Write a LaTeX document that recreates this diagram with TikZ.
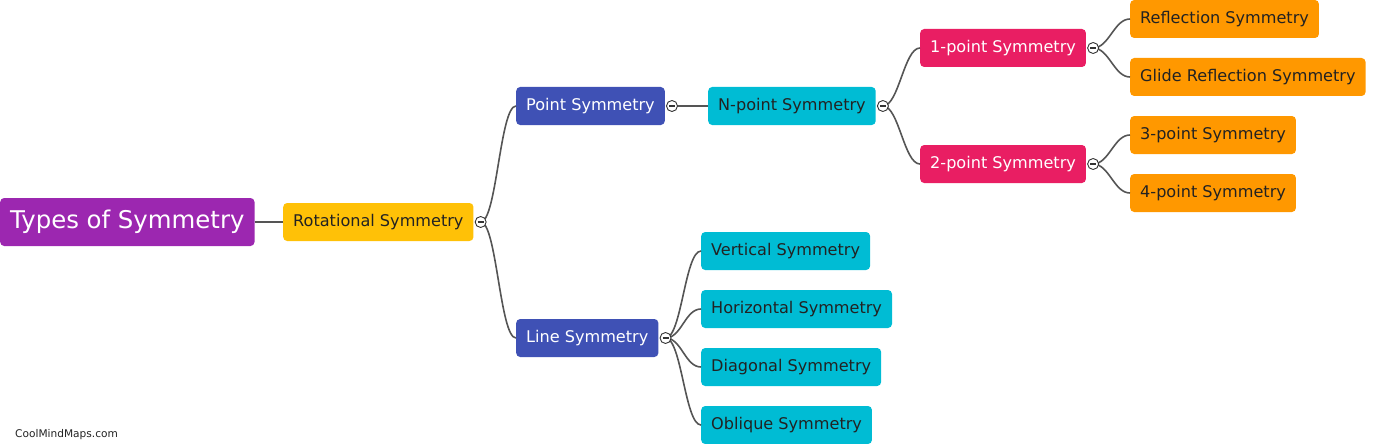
\documentclass[tikz,border=0pt]{standalone}
\usepackage{fontspec}
\setmainfont{DejaVu Sans}
\usetikzlibrary{positioning}
\definecolor{rootpurple}{HTML}{9C27B0}
\definecolor{amber}{HTML}{FFC107}
\definecolor{indigo}{HTML}{3F51B5}
\definecolor{cyan}{HTML}{00BCD4}
\definecolor{pink}{HTML}{E91E63}
\definecolor{orange}{HTML}{FF9800}
\definecolor{linegray}{HTML}{555555}
\definecolor{textdark}{HTML}{222222}
\tikzset
{
    rootnode/.style  = {fill=rootpurple, text=white, rounded corners=4pt, anchor=west, inner xsep=10pt, inner ysep=0pt, minimum height=48pt, font=\fontsize{24.4}{27}\selectfont},
    topicnode/.style = {text=textdark, rounded corners=4pt, anchor=west, inner xsep=10pt, inner ysep=0pt, minimum height=38pt, font=\fontsize{16.1}{18}\selectfont},
    toggle/.style    = {circle, draw=black!80, fill=white, line width=0.9pt, minimum size=11pt, inner sep=0pt,
                        path picture={\draw[line width=1.4pt] ([xshift=-3pt]path picture bounding box.center) -- ([xshift=3pt]path picture bounding box.center);}}
}

\begin{document}
\begin{tikzpicture}[x=1pt, y=-1pt, link/.style = {draw=linegray, line width=1.6pt}, curve/.style = {to path={.. controls +(16,0) and +(-16,0) .. (\tikztotarget)}}]
    \useasboundingbox (0,0) rectangle (1377,444);
    % nodes
    \node [rootnode] (types) at (0,222) {Types of Symmetry};
    \node [topicnode, fill=amber] (rotational) at (283,222) {Rotational Symmetry};
    \node [topicnode, fill=indigo, text=white] (point) at (516,106) {Point Symmetry};
    \node [topicnode, fill=cyan] (npoint) at (708,106) {N-point Symmetry};
    \node [topicnode, fill=pink, text=white] (onepoint) at (920,48) {1-point Symmetry};
    \node [topicnode, fill=pink, text=white] (twopoint) at (920,164) {2-point Symmetry};
    \node [topicnode, fill=orange] (reflection) at (1130,19) {Reflection Symmetry};
    \node [topicnode, fill=orange] (glide) at (1130,77) {Glide Reflection Symmetry};
    \node [topicnode, fill=orange] (threepoint) at (1130,135) {3-point Symmetry};
    \node [topicnode, fill=orange] (fourpoint) at (1130,193) {4-point Symmetry};
    \node [topicnode, fill=indigo, text=white] (line) at (516,338) {Line Symmetry};
    \node [topicnode, fill=cyan] (vertical) at (701,251) {Vertical Symmetry};
    \node [topicnode, fill=cyan] (horizontal) at (701,309) {Horizontal Symmetry};
    \node [topicnode, fill=cyan] (diagonal) at (701,367) {Diagonal Symmetry};
    \node [topicnode, fill=cyan] (oblique) at (701,425) {Oblique Symmetry};
    % toggles
    \coordinate (rotationalT) at ([xshift=7pt]rotational.east);
    \coordinate (pointT) at ([xshift=7pt]point.east);
    \coordinate (npointT) at ([xshift=7pt]npoint.east);
    \coordinate (onepointT) at ([xshift=7pt]onepoint.east);
    \coordinate (twopointT) at ([xshift=7pt]twopoint.east);
    \coordinate (lineT) at ([xshift=7pt]line.east);
    % links
    \draw [link] (types.east) -- (rotational.west);
    \draw [link] (rotationalT) to[curve] (point.west);
    \draw [link] (rotationalT) to[curve] (line.west);
    \draw [link] (pointT) -- (npoint.west);
    \draw [link] (npointT) to[curve] (onepoint.west);
    \draw [link] (npointT) to[curve] (twopoint.west);
    \draw [link] (onepointT) to[curve] (reflection.west);
    \draw [link] (onepointT) to[curve] (glide.west);
    \draw [link] (twopointT) to[curve] (threepoint.west);
    \draw [link] (twopointT) to[curve] (fourpoint.west);
    \draw [link] (lineT) to[curve] (vertical.west);
    \draw [link] (lineT) to[curve] (horizontal.west);
    \draw [link] (lineT) to[curve] (diagonal.west);
    \draw [link] (lineT) to[curve] (oblique.west);
    \foreach \t in {rotationalT, pointT, npointT, onepointT, twopointT, lineT}
        \node [toggle] at (\t) {};
    % watermark
    \node [anchor=west, text=textdark, font=\fontsize{10.6}{12}\selectfont, inner sep=0pt] (credit) at (15,435) {CoolMindMaps.com};
\end{tikzpicture}
\end{document}
